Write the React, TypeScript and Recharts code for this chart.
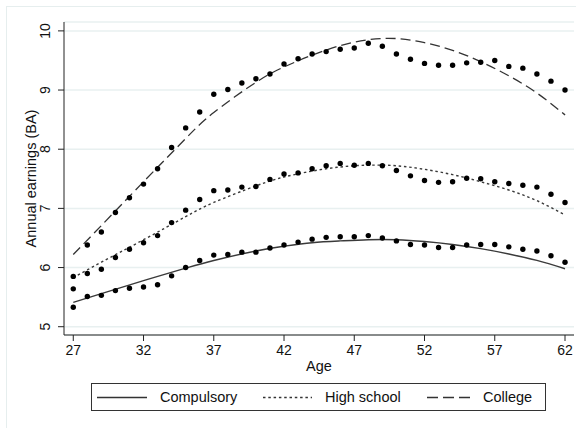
import React from "react";
import { ComposedChart, Line, XAxis, YAxis, CartesianGrid, Label } from "recharts";

// binned means by age
const ages = [27, 28, 29, 30, 31, 32, 33, 34, 35, 36, 37, 38, 39, 40, 41, 42, 43, 44, 45, 46, 47, 48, 49, 50, 51, 52, 53, 54, 55, 56, 57, 58, 59, 60, 61, 62];
const compulsory = [5.33, 5.51, 5.53, 5.61, 5.65, 5.67, 5.71, 5.86, 6.0, 6.12, 6.21, 6.22, 6.26, 6.26, 6.33, 6.38, 6.43, 6.48, 6.51, 6.52, 6.52, 6.54, 6.5, 6.45, 6.39, 6.38, 6.34, 6.34, 6.38, 6.39, 6.39, 6.35, 6.31, 6.28, 6.2, 6.09];
const highSchool = [5.85, 5.9, 5.97, 6.17, 6.31, 6.42, 6.54, 6.76, 6.97, 7.15, 7.3, 7.31, 7.36, 7.37, 7.49, 7.58, 7.6, 7.67, 7.72, 7.76, 7.73, 7.76, 7.72, 7.64, 7.55, 7.47, 7.44, 7.45, 7.51, 7.5, 7.45, 7.42, 7.39, 7.36, 7.24, 7.1];
const college = [5.64, 6.38, 6.6, 6.93, 7.18, 7.41, 7.67, 8.03, 8.36, 8.63, 8.93, 9.01, 9.12, 9.19, 9.27, 9.44, 9.53, 9.61, 9.65, 9.69, 9.71, 9.79, 9.74, 9.61, 9.52, 9.45, 9.42, 9.42, 9.46, 9.47, 9.5, 9.4, 9.37, 9.27, 9.15, 9.0];

// fitted profiles
const fitAges = [27, 29, 32, 35, 37, 40, 42, 44, 46, 48, 50, 52, 54, 56, 58, 60, 62];
const compulsoryFit = [5.41, 5.56, 5.78, 5.99, 6.12, 6.28, 6.36, 6.42, 6.45, 6.47, 6.47, 6.44, 6.39, 6.32, 6.23, 6.12, 5.98];
const highSchoolFit = [5.83, 6.09, 6.47, 6.86, 7.1, 7.38, 7.53, 7.63, 7.7, 7.73, 7.72, 7.66, 7.57, 7.45, 7.31, 7.13, 6.89];
const collegeFit = [6.22, 6.71, 7.45, 8.18, 8.62, 9.13, 9.39, 9.59, 9.75, 9.85, 9.87, 9.8, 9.67, 9.48, 9.24, 8.95, 8.58];

const xTicks = [27, 32, 37, 42, 47, 52, 57, 62];
const yTicks = [5, 6, 7, 8, 9, 10];

const FONT = "'Liberation Sans', Arial, Helvetica, sans-serif";

const points = ages.map((age, i) => ({ age, comp: compulsory[i], hs: highSchool[i], col: college[i] }));
const fits = fitAges.map((age, i) => ({ age, comp: compulsoryFit[i], hs: highSchoolFit[i], col: collegeFit[i] }));

const dot = { r: 2.7, fill: "#000", stroke: "none" };

const YTick = ({ y, payload }: any) => (
  <text x={50} y={y} transform={`rotate(-90 50 ${y})`} textAnchor="middle" fontSize={14} fill="#111" fontFamily={FONT}>
    {payload.value}
  </text>
);

function LegendBox() {
  const item = (x: number, dash: string | undefined, label: string, lineW: number) => (
    <>
      <svg style={{ position: "absolute", left: x, top: 12 }} width={lineW} height={3}>
        <line x1={0} y1={1.5} x2={lineW} y2={1.5} stroke="#333" strokeWidth={1.4} strokeDasharray={dash} />
      </svg>
      <span style={{ position: "absolute", left: x + lineW + 13, top: 4, fontSize: 14.5, lineHeight: "18px", color: "#111" }}>{label}</span>
    </>
  );
  return (
    <div style={{ position: "absolute", left: 91, top: 383, width: 453, height: 26, border: "1px solid #333", fontFamily: FONT }}>
      {item(5, undefined, "Compulsory", 50)}
      {item(171, "2.5 2.8", "High school", 49)}
      {item(335, "11 5", "College", 43)}
    </div>
  );
}

export default function App() {
  return (
    <div style={{ position: "absolute", left: 0, top: 0, width: 576, height: 428, background: "#fff", overflow: "hidden", fontFamily: FONT }}>
      <div style={{ position: "absolute", left: 6, top: 6, width: 600, height: 460, border: "1px solid #e6eeee" }} />
      <ComposedChart width={576} height={428} margin={{ top: 22, right: 2, left: 0, bottom: 0 }} style={{ position: "absolute", left: 0, top: 0 }}>
        <CartesianGrid vertical={false} stroke="#e8f0f0" strokeWidth={1.5} />
        <XAxis
          dataKey="age"
          type="number"
          domain={[26.34, 62.64]}
          ticks={xTicks}
          allowDataOverflow
          height={93}
          tickSize={6}
          tickMargin={4}
          stroke="#222"
          tick={{ fontSize: 14, fill: "#111", fontFamily: FONT }}
        >
          <Label
            content={({ viewBox }: any) => (
              <text x={viewBox.x + viewBox.width / 2} y={viewBox.y + 36} textAnchor="middle" fontSize={14.5} fill="#111" fontFamily={FONT}>
                Age
              </text>
            )}
          />
        </XAxis>
        <YAxis
          type="number"
          domain={[4.86, 10.15]}
          ticks={yTicks}
          allowDataOverflow
          width={64}
          tickSize={6}
          stroke="#222"
          tick={<YTick />}
        >
          <Label
            content={({ viewBox }: any) => {
              const cx = 31;
              const cy = viewBox.y + viewBox.height / 2;
              return (
                <text x={cx} y={cy} transform={`rotate(-90 ${cx} ${cy})`} textAnchor="middle" dy="0.36em" fontSize={14.5} fill="#111" fontFamily={FONT}>
                  Annual earnings (BA)
                </text>
              );
            }}
          />
        </YAxis>

        <Line data={fits} dataKey="comp" type="natural" stroke="#3a3a3a" strokeWidth={1.4} dot={false} isAnimationActive={false} />
        <Line data={fits} dataKey="hs" type="natural" stroke="#3a3a3a" strokeWidth={1.4} strokeDasharray="2.5 2.8" dot={false} isAnimationActive={false} />
        <Line data={fits} dataKey="col" type="natural" stroke="#333" strokeWidth={1.3} strokeDasharray="10 5" dot={false} isAnimationActive={false} />

        <Line data={points} dataKey="comp" stroke="none" dot={dot} activeDot={false} isAnimationActive={false} />
        <Line data={points} dataKey="hs" stroke="none" dot={dot} activeDot={false} isAnimationActive={false} />
        <Line data={points} dataKey="col" stroke="none" dot={dot} activeDot={false} isAnimationActive={false} />
      </ComposedChart>
      <LegendBox />
    </div>
  );
}
